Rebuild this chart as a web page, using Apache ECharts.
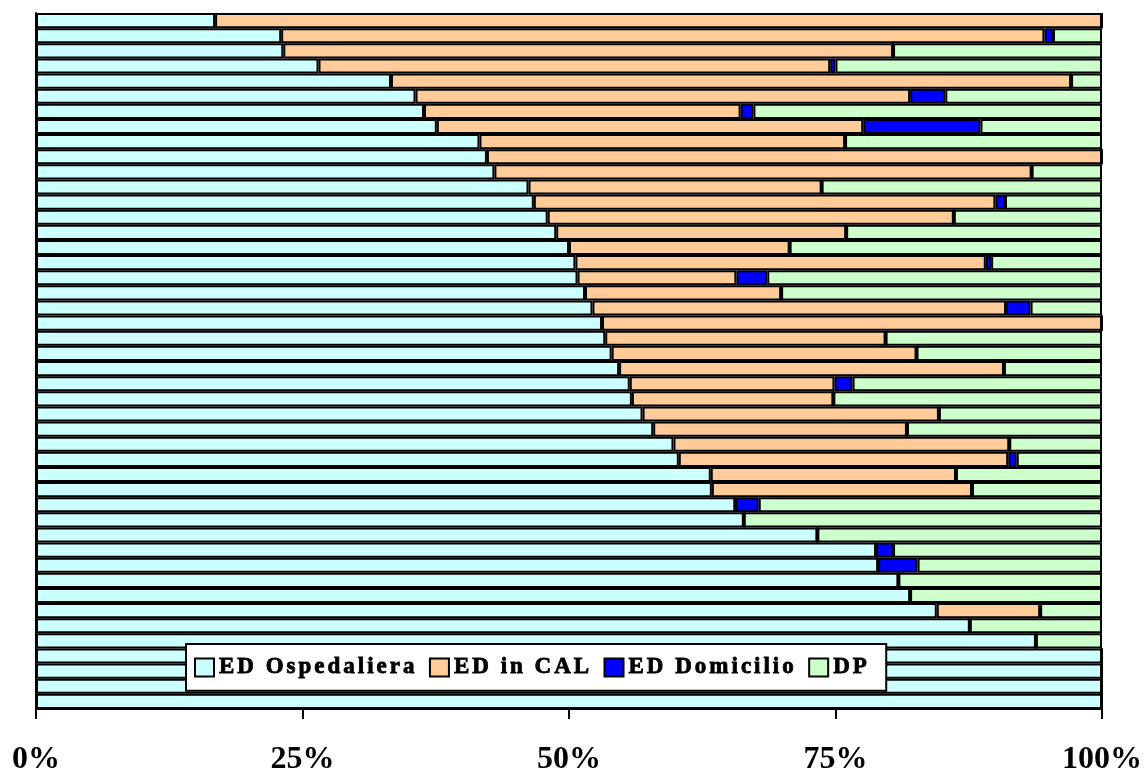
<!DOCTYPE html>
<html>
<head>
<meta charset="utf-8">
<style>
  html, body { margin: 0; padding: 0; background: #fff; }
  #chart { width: 1144px; height: 769px; }
</style>
<script src="https://cdn.jsdelivr.net/npm/echarts@6/dist/echarts.min.js"></script>
</head>
<body>
<div id="chart"></div>
<script>
// Wider tracking for the legend labels (23px text only); applied to both
// measuring and drawing so the legend layout stays consistent.
(function () {
  var proto = CanvasRenderingContext2D.prototype;
  var desc = Object.getOwnPropertyDescriptor(proto, 'font');
  if (!desc || !('letterSpacing' in proto)) return;
  Object.defineProperty(proto, 'font', {
    configurable: true,
    get: function () { return desc.get.call(this); },
    set: function (v) {
      var spacing = /\b23px\b/.test(v) ? '3px' : '0px';
      if (this.letterSpacing !== spacing) this.letterSpacing = spacing;
      desc.set.call(this, v);
    }
  });
})();

// One row per unit, top to bottom; shares in percent.
var categories = ['1','2','3','4','5','6','7','8','9','10','11','12','13','14','15','16',
  '17','18','19','20','21','22','23','24','25','26','27','28','29','30','31','32',
  '33','34','35','36','37','38','39','40','41','42','43','44','45','46'];

var edOspedaliera = [16.8, 23.0, 23.2, 26.5, 33.3, 35.6, 36.4, 37.6, 41.6, 42.3, 43.0, 46.2,
  46.7, 48.0, 48.8, 50.0, 50.6, 50.8, 51.5, 52.2, 53.1, 53.4, 54.0, 54.7, 55.7, 55.9,
  56.9, 57.9, 59.8, 60.3, 63.3, 63.4, 65.6, 66.4, 73.3, 78.8, 79.0, 80.9, 82.0, 84.5,
  87.6, 93.8, 100, 100, 100, 100];

var edInCal = [83.2, 71.6, 57.2, 48.0, 63.8, 46.4, 29.7, 40.0, 34.3, 57.7, 50.4, 27.5,
  43.3, 38.1, 27.2, 20.7, 38.5, 14.9, 18.4, 38.8, 46.9, 26.3, 28.6, 36.1, 19.2, 18.9,
  27.8, 23.8, 31.5, 30.9, 23.0, 24.4, 0, 0, 0, 0, 0, 0, 0, 9.7,
  0, 0, 0, 0, 0, 0];

var edDomicilio = [0, 0.8, 0, 0.5, 0, 3.3, 1.2, 11.0, 0, 0, 0, 0,
  0.9, 0, 0, 0, 0.5, 2.9, 0, 2.3, 0, 0, 0, 0, 1.7, 0,
  0, 0, 0, 0.8, 0, 0, 2.2, 0, 0, 1.6, 3.7, 0, 0, 0,
  0, 0, 0, 0, 0, 0];

var dp = [0, 4.6, 19.6, 25.0, 2.9, 14.7, 32.7, 11.4, 24.1, 0, 6.6, 26.3,
  9.1, 13.9, 24.0, 29.3, 10.4, 31.4, 30.1, 6.7, 0, 20.3, 17.4, 9.2, 23.4, 25.2,
  15.3, 18.3, 8.7, 8.0, 13.7, 12.2, 32.2, 33.6, 26.7, 19.6, 17.3, 19.1, 18.0, 5.8,
  12.4, 6.2, 0, 0, 0, 0];

var seriesNames = ['ED Ospedaliera', 'ED in CAL', 'ED Domicilio', 'DP'];
var seriesColors = ['#CCFFFF', '#FFCC99', '#0000FF', '#CCFFCC'];
var seriesData = [edOspedaliera, edInCal, edDomicilio, dp];

var serif = '"Liberation Serif", "Times New Roman", serif';

var chart = echarts.init(document.getElementById('chart'), null, { renderer: 'canvas' });

chart.setOption({
  animation: false,
  backgroundColor: '#ffffff',
  grid: {
    left: 36, right: 42, top: 13, bottom: 60,
    containLabel: false,
    outerBoundsMode: 'none'
  },
  xAxis: {
    type: 'value',
    min: 0,
    max: 100,
    interval: 25,
    splitLine: { show: false },
    axisLine: { show: true, lineStyle: { color: '#000', width: 2 } },
    axisTick: { show: true, length: 10, lineStyle: { color: '#000', width: 2 } },
    axisLabel: {
      formatter: '{value}%',
      color: '#000',
      fontFamily: serif,
      fontWeight: 'bold',
      fontSize: 32,
      margin: 35
    }
  },
  yAxis: {
    type: 'category',
    data: categories,
    inverse: true,
    axisLine: { show: true, lineStyle: { color: '#000', width: 2 } },
    axisTick: { show: false },
    axisLabel: { show: false },
    splitLine: { show: false }
  },
  legend: {
    data: seriesNames,
    left: 186,
    top: 644,
    orient: 'horizontal',
    icon: 'rect',
    itemWidth: 19,
    itemHeight: 18,
    itemGap: 11,
    padding: [10, 16, 10, 8],
    backgroundColor: '#ffffff',
    borderColor: '#000',
    borderWidth: 2,
    textStyle: {
      color: '#000',
      fontFamily: serif,
      fontWeight: 'bold',
      fontSize: 23,
      // heavier strokes for the tracked legend text
      textBorderColor: '#000',
      textBorderWidth: 0.8
    }
  },
  series: seriesNames.map(function (name, i) {
    return {
      name: name,
      type: 'bar',
      stack: 'total',
      barCategoryGap: '0%',
      data: seriesData[i],
      itemStyle: {
        color: seriesColors[i],
        borderColor: '#000',
        borderWidth: 2
      },
      emphasis: { disabled: true }
    };
  })
});
</script>
</body>
</html>
